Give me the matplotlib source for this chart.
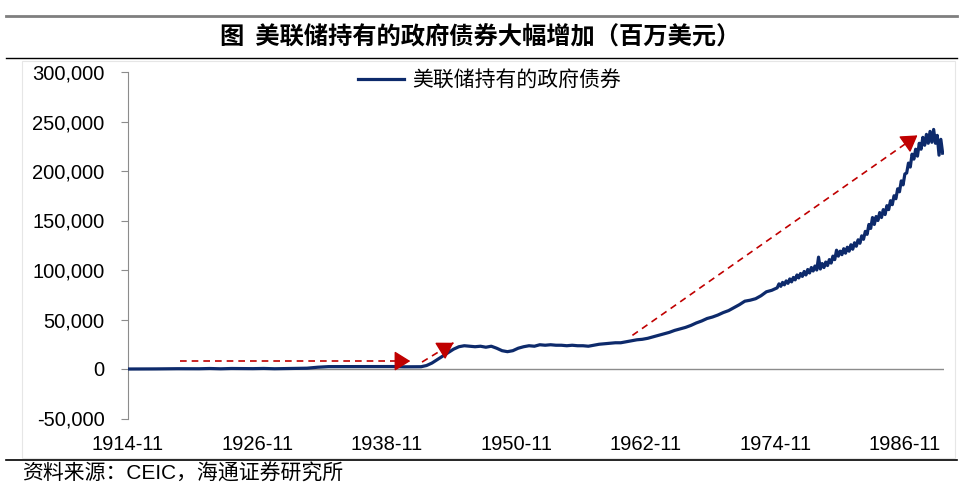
import matplotlib.pyplot as plt
from matplotlib.lines import Line2D
from matplotlib.patches import Rectangle
from matplotlib.ticker import FuncFormatter

plt.rcParams['font.family'] = ['Liberation Sans', 'Noto Sans CJK SC', 'DejaVu Sans']

# 美联储持有的政府债券（百万美元），读图估计
dates = [
    "1914-11", "1915-06", "1916-06", "1917-06", "1918-06", "1919-06", "1920-06",
    "1921-06", "1922-06", "1923-06", "1924-06", "1925-06", "1926-06", "1927-06",
    "1928-06", "1929-06", "1930-06", "1931-06", "1932-06", "1933-06", "1934-06",
    "1935-06", "1936-06", "1937-06", "1938-06", "1939-06", "1940-06", "1941-06",
    "1942-01", "1942-07", "1943-01", "1943-07", "1944-01", "1944-07", "1945-01",
    "1945-07", "1946-01", "1946-07", "1947-01", "1947-07", "1948-01", "1948-07",
    "1949-01", "1949-07", "1950-01", "1950-07", "1951-01", "1951-07", "1952-01",
    "1952-07", "1953-01", "1953-07", "1954-01", "1954-07", "1955-01", "1955-07",
    "1956-01", "1956-07", "1957-01", "1957-07", "1958-01", "1958-07", "1959-01",
    "1959-07", "1960-01", "1960-07", "1961-01", "1961-07", "1962-01", "1962-07",
    "1963-01", "1963-07", "1964-01", "1964-07", "1965-01", "1965-07", "1966-01",
    "1966-07", "1967-01", "1967-07", "1968-01", "1968-07", "1969-01", "1969-07",
    "1970-01", "1970-07", "1971-01", "1971-07", "1972-01", "1972-07", "1973-01",
    "1973-07", "1974-01", "1974-07",
    "1975-01", "1975-03", "1975-05", "1975-07", "1975-09", "1975-11",
    "1976-01", "1976-03", "1976-05", "1976-07", "1976-09", "1976-11",
    "1977-01", "1977-03", "1977-05", "1977-07", "1977-09", "1977-11",
    "1978-01", "1978-03", "1978-05", "1978-07", "1978-09", "1978-11",
    "1979-01", "1979-03", "1979-05", "1979-07", "1979-09", "1979-11",
    "1980-01", "1980-03", "1980-05", "1980-07", "1980-09", "1980-11",
    "1981-01", "1981-03", "1981-05", "1981-07", "1981-09", "1981-11",
    "1982-01", "1982-03", "1982-05", "1982-07", "1982-09", "1982-11",
    "1983-01", "1983-03", "1983-05", "1983-07", "1983-09", "1983-11",
    "1984-01", "1984-03", "1984-05", "1984-07", "1984-09", "1984-11",
    "1985-01", "1985-03", "1985-05", "1985-07", "1985-09", "1985-11",
    "1986-01", "1986-03", "1986-05", "1986-07", "1986-09", "1986-11",
    "1987-01", "1987-03", "1987-05", "1987-07", "1987-09", "1987-11",
    "1988-01", "1988-03", "1988-05", "1988-07", "1988-09", "1988-11",
    "1989-01", "1989-03", "1989-05", "1989-07", "1989-09", "1989-11",
    "1990-01", "1990-03", "1990-05",
]
holdings = [
    0, 20, 50, 100, 250, 300, 300,
    250, 500, 200, 500, 400, 350, 550,
    250, 450, 650, 800, 1800, 2400, 2430,
    2430, 2430, 2500, 2560, 2480, 2200, 2250,
    2300, 3500, 6000, 9500, 13000, 16500, 20000,
    22500, 23500, 23000, 22500, 23000, 22000, 23000,
    21000, 18500, 17500, 18500, 21000, 22500, 23500,
    23000, 24500, 24000, 24500, 24000, 24000, 23500,
    24000, 23500, 23500, 23000, 24000, 25000, 25500,
    26000, 26500, 26500, 27500, 28500, 29500, 30000,
    31000, 32500, 34000, 35500, 37000, 39000, 40500,
    42000, 44000, 46500, 48500, 51000, 52500, 54500,
    57000, 59000, 62000, 65000, 68500, 69500, 71000,
    74000, 78000, 79500,
    82000, 86000, 83500, 87500, 85000, 89000,
    86500, 91000, 88000, 92500, 90000, 95000,
    92000, 96500, 93500, 98500, 95000, 100500,
    97000, 102500, 99000, 104000, 100000, 113000,
    101000, 106500, 102500, 108000, 104500, 110500,
    107000, 114000, 110500, 120000, 114000, 119000,
    115500, 121500, 117000, 123000, 119000, 125500,
    121000, 127500, 124000, 130500, 127000, 134500,
    131000, 139000, 136000, 146000, 142000, 153000,
    146000, 154000, 150000, 158000, 153000, 161000,
    156000, 165000, 161000, 170000, 166000, 175000,
    172000, 182000, 179000, 190000, 186000, 197000,
    198000, 208000, 204000, 217000, 212000, 222000,
    215000, 228000, 222000, 234000, 226000, 237000,
    228000, 240000, 229000, 242000, 228000, 236000,
    216000, 232000, 218000,
]

tick_labels = ["1914-11", "1926-11", "1938-11", "1950-11", "1962-11", "1974-11", "1986-11"]
y_ticks = [-50000, 0, 50000, 100000, 150000, 200000, 250000, 300000]

# 红色虚线箭头：起点、终点
arrow_starts = [("1919-09", 8000), ("1942-02", 7000), ("1961-08", 34000)]
arrow_ends = [("1941-01", 8000), ("1945-01", 26500), ("1988-01", 236000)]


def to_year(s):
    y, m = s.split("-")
    return int(y) + (int(m) - 1) / 12


x = [to_year(d) for d in dates]

fig = plt.figure(figsize=(9.6, 4.96), dpi=100)
ax = fig.add_axes([128 / 960, 1 - 418.5 / 496, (944 - 128) / 960, (418.5 - 72) / 496])

ax.plot(x, holdings, color="#0d2a6b", lw=2.3, label="美联储持有的政府债券", zorder=3)
ax.axhline(0, color="#8c8c8c", lw=1.0, zorder=2)

ax.set_xlim(to_year("1914-11"), 1990.46)
ax.set_ylim(-50000, 300000)

red = "#c00000"
for (d0, v0), (d1, v1) in zip(arrow_starts, arrow_ends):
    x0, x1 = to_year(d0), to_year(d1)
    ax.plot([x0, x1], [v0, v1], color=red, lw=1.2, ls=(0, (4, 3)), zorder=4)
    # 实心箭头：从终点前约 10 像素画到终点
    p0 = ax.transData.transform((x0, v0))
    p1 = ax.transData.transform((x1, v1))
    frac = 10 / ((p1 - p0) ** 2).sum() ** 0.5
    xb = x1 - (x1 - x0) * frac
    yb = v1 - (v1 - v0) * frac
    ax.annotate("", xy=(x1, v1), xytext=(xb, yb),
                arrowprops=dict(arrowstyle="-|>,head_length=0.45,head_width=0.28",
                                color=red, lw=1.0, mutation_scale=22,
                                shrinkA=0, shrinkB=0),
                zorder=5)

ax.set_xticks([to_year(t) for t in tick_labels])
ax.set_xticklabels(tick_labels)
ax.set_yticks(y_ticks)
ax.yaxis.set_major_formatter(FuncFormatter(lambda v, p: f"{int(v):,}"))

for s in ["top", "right", "bottom"]:
    ax.spines[s].set_visible(False)
ax.spines["left"].set_color("#8c8c8c")
ax.tick_params(axis="y", length=5, color="#8c8c8c", labelsize=14.5, pad=12)
ax.tick_params(axis="x", length=0, labelsize=14.5, pad=12)

ax.legend(loc="center left", bbox_to_anchor=(358 / 960, 1 - 80 / 496),
          bbox_transform=fig.transFigure, frameon=False,
          handlelength=2.2, handletextpad=0.4, borderpad=0, borderaxespad=0,
          prop={"family": ["Noto Sans CJK SC"], "size": 15})

# 外框线与标题
fig.add_artist(Line2D([0.006, 0.997], [1 - 16 / 496] * 2, color="#7f7f7f", lw=2.0))
fig.add_artist(Line2D([0.006, 0.997], [1 - 58 / 496] * 2, color="black", lw=1.0))
fig.add_artist(Line2D([0.006, 0.997], [1 - 460 / 496] * 2, color="black", lw=1.2))
fig.add_artist(Rectangle((22 / 960, 1 - 458 / 496), (955 - 22) / 960, (458 - 61) / 496,
                         transform=fig.transFigure, fill=False, ec="#e6e6e6", lw=0.8))

fig.text(0.5, 1 - 37 / 496, "图  美联储持有的政府债券大幅增加（百万美元）",
         ha="center", va="center", fontsize=17.5, fontweight="bold",
         family=["Noto Sans CJK SC"])
fig.text(22 / 960, 1 - 474 / 496, "资料来源：CEIC，海通证券研究所",
         ha="left", va="center", fontsize=15, family=["Liberation Sans", "Noto Sans CJK SC"])

fig.savefig("out.png", dpi=100)
